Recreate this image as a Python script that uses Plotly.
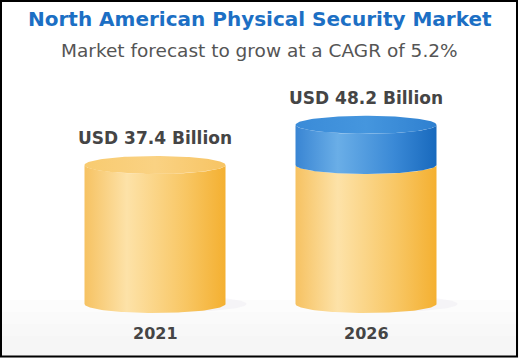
import numpy as np
import plotly.graph_objects as go

# ---------------- data ----------------
years = ["2021", "2026"]
values = [37.4, 48.2]                      # USD billion
value_labels = ["USD 37.4 Billion", "USD 48.2 Billion"]
title_text = "North American Physical Security Market"
subtitle_text = "Market forecast to grow at a CAGR of 5.2%"

# ---------------- layout geometry ----------------
W, H = 519, 358
x_range = [-0.7346, 1.7251]
y_range = [-14.53, 81.78]
ppu_x = W / (x_range[1] - x_range[0])
ppu_y = H / (y_range[1] - y_range[0])
rx = 70.5 / ppu_x          # cylinder half width (data units)
ry = 9.0 / ppu_y           # ellipse half height (data units)

FONT = "DejaVu Sans"
yellow_side = [[0, "#f6c262"], [0.3, "#fde2a8"], [0.72, "#f8c663"], [1, "#f4b031"]]
yellow_top = [[0, "#f8cb70"], [0.5, "#fad283"], [1, "#f7c463"]]
blue_side = [[0, "#3985d3"], [0.3, "#6aaee7"], [0.7, "#3a89d6"], [1, "#1869bd"]]
blue_top = [[0, "#3a8bd8"], [0.5, "#4596de"], [1, "#2f80d0"]]

fig = go.Figure()

t = np.linspace(0, np.pi, 80)
tt = np.linspace(0, 2 * np.pi, 160)


def side(cx, y0, y1, scale):
    xs = np.concatenate([cx - rx * np.cos(t), cx + rx * np.cos(t)])
    ys = np.concatenate([y0 - ry * np.sin(t), y1 - ry * np.sin(t)])
    fig.add_trace(go.Scatter(
        x=np.append(xs, xs[0]), y=np.append(ys, ys[0]), mode="lines",
        line=dict(width=0, color="rgba(0,0,0,0)"), fill="toself",
        fillgradient=dict(type="horizontal", colorscale=scale),
        hoverinfo="skip", showlegend=False))


def top(cx, y1, scale):
    fig.add_trace(go.Scatter(
        x=cx + rx * np.cos(tt), y=y1 + ry * np.sin(tt), mode="lines",
        line=dict(width=0, color="rgba(0,0,0,0)"), fill="toself",
        fillgradient=dict(type="horizontal", colorscale=scale),
        hoverinfo="skip", showlegend=False))


base = values[0]
for i, (yr, v) in enumerate(zip(years, values)):
    # soft shadow
    fig.add_trace(go.Scatter(
        x=i + 0.25 * rx + 1.05 * rx * np.cos(tt), y=0 + 0.9 * ry * np.sin(tt),
        mode="lines", line=dict(width=0, color="rgba(0,0,0,0)"), fill="toself",
        fillcolor="rgba(215,210,230,0.18)", hoverinfo="skip", showlegend=False))
    y_yellow = min(v, base)
    side(i, 0, y_yellow, yellow_side)
    if v > base:
        side(i, base, v, blue_side)
        top(i, v, blue_top)
    else:
        top(i, v, yellow_top)

annotations = []
for i, (yr, v, lab) in enumerate(zip(years, values, value_labels)):
    annotations.append(dict(x=i, y=v, xref="x", yref="y", text="<b>%s</b>" % lab, showarrow=False,
                            yshift=27, font=dict(family=FONT, size=17, color="#454545")))
    annotations.append(dict(x=i, y=0, xref="x", yref="y", text="<b>%s</b>" % yr, showarrow=False,
                            yshift=-30, font=dict(family=FONT, size=16, color="#454545")))

annotations.append(dict(x=0.5, y=1 - 19 / H, xref="paper", yref="paper", xanchor="center",
                        yanchor="middle", text="<b>%s</b>" % title_text, showarrow=False,
                        font=dict(family=FONT, size=20, color="#1c6fc4")))
annotations.append(dict(x=0.5, y=1 - 50 / H, xref="paper", yref="paper", xanchor="center",
                        yanchor="middle", text=subtitle_text, showarrow=False,
                        font=dict(family=FONT, size=18.5, color="#555555")))

shapes = []
# very soft grey fade at the bottom of the card
for k, col in enumerate(["#fcfcfc", "#fafafa", "#f8f8f8", "#f6f6f6"]):
    top_px = 300 + k * 12
    shapes.append(dict(type="rect", xref="paper", yref="paper", x0=0, x1=1, y0=0, y1=1 - top_px / H,
                       fillcolor=col, line=dict(width=0), layer="below"))
shapes.append(dict(type="rect", xref="paper", yref="paper", x0=1 / W, x1=517 / W, y0=1 - 356.5 / H,
                   y1=1 - 1 / H, fillcolor="rgba(0,0,0,0)", line=dict(color="#000000", width=2)))

fig.update_layout(
    width=W, height=H, autosize=False,
    margin=dict(l=0, r=0, t=0, b=0, pad=0),
    paper_bgcolor="#ffffff", plot_bgcolor="rgba(0,0,0,0)",
    xaxis=dict(range=x_range, visible=False, fixedrange=True),
    yaxis=dict(range=y_range, visible=False, fixedrange=True),
    annotations=annotations, shapes=shapes, showlegend=False, hovermode=False,
)

fig.write_html("out.html", config={"displayModeBar": False},
               post_script="document.body.style.margin='0';document.body.style.overflow='hidden';")
